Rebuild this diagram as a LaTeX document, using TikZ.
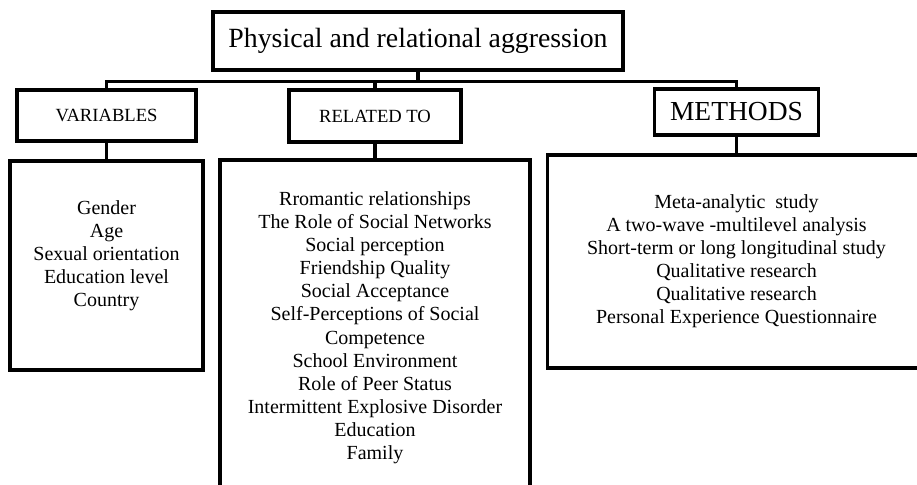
\documentclass[tikz,border=0pt]{standalone}
\usepackage{fontspec}
\setmainfont{Liberation Serif}
\usetikzlibrary{positioning,calc}

\begin{document}
\begin{tikzpicture}[
        x=1pt, y=-1pt,
        node distance=40pt,
        block/.style={rectangle, draw, line width=3.2pt, text centered, inner sep=0pt},
        panel/.style={rectangle, draw, line width=3.2pt, inner sep=0pt},
        list/.style={align=center, inner sep=0pt, font=\fontsize{20}{23.1}\selectfont},
        line/.style={draw, line width=3.2pt}
    ]
    \useasboundingbox (0,0) rectangle (917,484);

    % nodes
    \node[block, minimum width=410pt, minimum height=58pt, font=\fontsize{27.8}{30}\selectfont] (top) at (418,41) {Physical and relational aggression};
    \node[block, minimum width=179pt, minimum height=51pt, font=\fontsize{18.6}{20}\selectfont] (var) at (106.5,115.5) {VARIABLES};
    \node[block, minimum width=172pt, minimum height=52pt, font=\fontsize{18.6}{20}\selectfont] (rel) at (375,116) {RELATED TO};
    \node[block, minimum width=164pt, minimum height=46pt, font=\fontsize{27.5}{30}\selectfont] (meth) at (736.5,112) {METHODS};

    \node[panel, minimum width=193pt, minimum height=209pt] (vardet) at (106.5,265.5) {};
    \node[panel, minimum width=310pt, minimum height=334pt] (reldet) at (375,327) {};
    \node[panel, minimum width=378pt, minimum height=213pt] (methdet) at (736.5,261.5) {};

    \node[list, below=41pt of vardet.north] (varlist) {Gender\\Age\\Sexual orientation\\Education level\\Country};
    \node[list, below=33pt of reldet.north] (rellist) {Rromantic relationships\\The Role of Social Networks\\Social perception\\Friendship Quality\\Social Acceptance\\Self-Perceptions of Social\\Competence\\School Environment\\Role of Peer Status\\Intermittent Explosive Disorder\\Education\\Family};
    \node[list, below=41pt of methdet.north] (methlist) {Meta-analytic\ \ study\\A two-wave -multilevel analysis\\Short-term or long longitudinal study\\Qualitative research\\Qualitative research\\Personal Experience Questionnaire};

    \coordinate (bus) at ($(top.south)+(0,10)$);

    % lines
    \path[line] (top.south) -- (bus);
    \path[line] (var.north) |- (bus) -| (meth.north);
    \path[line] (rel.north) -- (rel.north |- bus);
    \path[line] (var.south) -- (vardet.north);
    \path[line] (rel.south) -- (reldet.north);
    \path[line] (meth.south) -- (methdet.north);

\end{tikzpicture}
\end{document}
